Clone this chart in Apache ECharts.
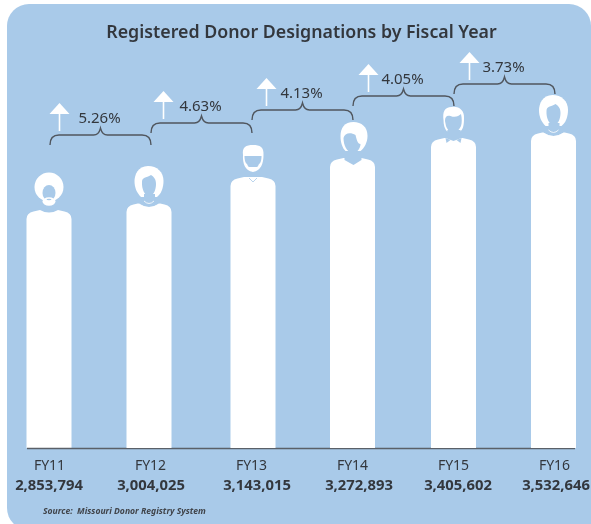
<!DOCTYPE html>
<html>
<head>
<meta charset="utf-8">
<style>html,body{margin:0;padding:0;background:#fff}#c{width:591px;height:524px}</style>
<script src="https://cdn.jsdelivr.net/npm/echarts@6/dist/echarts.min.js"></script>
</head>
<body>
<div id="c"></div>
<script>
// --- data ---
const fiscalYears = ['FY11', 'FY12', 'FY13', 'FY14', 'FY15', 'FY16'];
const designations = [2853794, 3004025, 3143015, 3272893, 3405602, 3532646];
// silhouette shoulder heights as drawn in the infographic (not strictly proportional)
const figureLevels = [2853794, 2915000, 3144000, 3312000, 3488000, 3541000];
const growthLabels = ['5.26%', '4.63%', '4.13%', '4.05%', '3.73%'];
const braceLevels = [3514000, 3620000, 3735000, 3858000, 3964000];
const figureKinds = ['afro', 'curly', 'beard', 'bob', 'suit', 'curly'];

// --- styling ---
const PANEL = '#a9cae9', INK = '#33373d', BRACE = '#50565e', WHITE = '#ffffff';
const FONT = '"Noto Sans", "Open Sans", sans-serif';
const figureShift = [-0.5, -1.5, 1.5, 0, 0, -1];
const valueShift = [-0.5, 0.5, 5.5, 6.5, 4.5, 1.5];
const arrowShift = [-41, -38, -36, -35, -35];
const BODY_W = 22.5;

function ell(cx, cy, rx, ry) {
  return `M${cx - rx} ${cy}A${rx} ${ry} 0 1 1 ${cx + rx} ${cy}A${rx} ${ry} 0 1 1 ${cx - rx} ${cy}Z`;
}
function fill(d, color) { return { type: 'path', shape: { pathData: d }, style: { fill: color } }; }
function stroke(d, color, w) { return { type: 'path', shape: { pathData: d }, style: { fill: 'none', stroke: color, lineWidth: w } }; }

const heads = {
  afro: () => [
    fill(ell(0, -23, 14.5, 14.5), WHITE),
    fill(ell(0, -17, 6.5, 8), PANEL),
    fill(ell(0, -8.5, 6.5, 4.2), WHITE),
    fill(ell(0, -10.5, 2.5, 0.8), PANEL),
    fill('M-8 -4Q0 3 8 -4L9 0Q0 5 -9 0Z', PANEL)
  ],
  curly: () => [
    fill('M-1 -37C-11 -37 -14.5 -28 -14.5 -22C-14.5 -15 -12 -10 -8 -6L8 -6L10 -8C13 -11 14.5 -17 14.5 -22C14.5 -31 8 -37 -1 -37Z', WHITE),
    fill('M2 -28C-3 -25 -7 -26 -7 -21C-7.5 -14 -4 -7 0 -7C5 -7 7 -14 7 -19C7 -24 5 -26 2 -28Z', PANEL),
    fill('M-5 -9L6 -9L6 -5L11 0Q0 8 -11 0L-5 -5Z', PANEL),
    stroke('M-10 1Q0 8 10 1', WHITE, 0.8),
    stroke('M-5 -2Q0 3 5 -2', WHITE, 0.8)
  ],
  beard: () => [
    fill('M-10 -22C-11 -30 -7 -32 0 -32C7 -32 11 -30 10.5 -22C10.5 -14 8 -6 0 -5C-8 -6 -10.5 -14 -10 -22Z', WHITE),
    fill('M-8.5 -21L8.5 -21C8.5 -18 8 -14 6 -13L-6 -13C-8 -14 -8.5 -18 -8.5 -21Z', PANEL),
    fill('M-4 -13C-2 -14.5 2 -14.5 4 -13L6 -13C5 -11 5 -10 3.5 -10L-3.5 -10C-5 -10 -5 -11 -6 -13Z', PANEL),
    fill('M-9 -9L-3 -5L-3 0L-8 0Z', PANEL),
    fill('M9 -9L3 -5L3 0L8 0Z', PANEL),
    stroke('M-4 1L0 5L4 1', PANEL, 0.8)
  ],
  bob: () => [
    fill('M1 -36C-8 -36 -12 -30 -12 -22C-12 -15 -10 -10 -7 -7L8 -7C12 -10 15 -16 15 -22C15 -31 9 -36 1 -36Z', WHITE),
    fill('M-9 -20C-9 -13 -6 -6 0 -5C5 -5 8 -10 8 -14C5 -14 4 -19 3 -23C-2 -26 -8 -25 -9 -20Z', PANEL),
    fill('M-8 -6L9 -6L9 2L1 7L-8 2Z', PANEL)
  ],
  suit: () => [
    fill('M-10 -18C-11 -26 -9 -31 -2 -31C6 -32 11 -27 10.5 -20C10.5 -14 10 -8 6 -6L-6 -6C-9 -9 -10 -13 -10 -18Z', WHITE),
    fill('M-8.5 -17C-8.5 -21 -7 -23 -3 -22C2 -20 5 -22 7.5 -24C8.5 -20 8.5 -15 7.5 -12C5 -7 2 -5 0 -5C-3 -5 -6 -8 -7.5 -12Z', PANEL),
    fill('M-6 -8L7 -8L8 0L0 3L-8 0Z', PANEL),
    fill('M-8 0L-3 2L-7 5Z', PANEL),
    fill('M8 0L3 2L7 5Z', PANEL),
    fill('M-2.5 3L2.5 3L1.5 9L-1.5 9Z', WHITE)
  ]
};

function renderFigure(params, api) {
  const i = api.value(0);
  const c = api.coord([i, api.value(1)]);
  const base = api.coord([i, 755000])[1];
  const cx = c[0] + figureShift[i], top = c[1], h = base - top, w = BODY_W;
  const body = `M${-w} ${h}L${-w} 9Q${-w} 3 ${-w + 7} 1.5L-9 0L9 0L${w - 7} 1.5Q${w} 3 ${w} 9L${w} ${h}Z`;
  const children = [fill(body, WHITE)].concat(heads[figureKinds[i]]());
  const items = [{ type: 'group', x: cx, y: top, children }];
  items.push({
    type: 'text',
    x: c[0] + valueShift[i], y: base + 37.5,
    style: {
      text: designations[i].toLocaleString('en-US'),
      fill: INK, align: 'center', verticalAlign: 'middle',
      font: 'bold 14.8px ' + FONT
    }
  });
  if (i === 0) {
    items.push({
      type: 'line',
      shape: { x1: c[0] - 22.5, y1: base + 0.5, x2: api.coord([fiscalYears.length - 1, 0])[0] + 20.5, y2: base + 0.5 },
      style: { stroke: '#5a6068', lineWidth: 1.5 }
    });
  }
  return { type: 'group', children: items };
}

function renderBrace(params, api) {
  const i = api.value(0);
  const a = api.coord([i, api.value(1)]);
  const b = api.coord([i + 1, api.value(1)]);
  const x0 = a[0] + 0.5, x1 = b[0] + 0.5, y = a[1], xm = (x0 + x1) / 2;
  const d = `M${x0} ${y + 10}C${x0} ${y + 3} ${x0 + 3} ${y} ${x0 + 9} ${y}L${xm - 7} ${y}C${xm - 3} ${y} ${xm - 1} ${y - 3} ${xm} ${y - 7}C${xm + 1} ${y - 3} ${xm + 3} ${y} ${xm + 7} ${y}L${x1 - 9} ${y}C${x1 - 3} ${y} ${x1} ${y + 3} ${x1} ${y + 10}`;
  const ax = xm + arrowShift[i], ay = y;
  return {
    type: 'group',
    children: [
      stroke(d, BRACE, 1.4),
      fill(`M${ax - 10} ${ay - 21}L${ax} ${ay - 32}L${ax + 10} ${ay - 21}Z`, WHITE),
      { type: 'rect', shape: { x: ax - 0.8, y: ay - 22, width: 1.6, height: 18 }, style: { fill: WHITE } },
      {
        type: 'text', x: xm - 1, y: y - 16.5,
        style: {
          text: growthLabels[i], fill: INK, align: 'center', verticalAlign: 'middle',
          font: '15px ' + FONT
        }
      }
    ]
  };
}

const chart = echarts.init(document.getElementById('c'), null, { renderer: 'canvas' });
chart.setOption({
  animation: false,
  backgroundColor: '#ffffff',
  title: {
    text: 'Registered Donor Designations by Fiscal Year',
    left: 296.5, top: 19, textAlign: 'center',
    textStyle: { fontFamily: FONT, fontSize: 17.8, fontWeight: 600, color: INK }
  },
  graphic: [
    { type: 'rect', z: -1, shape: { x: 7, y: 4, width: 584, height: 526, r: [22, 22, 0, 22] }, style: { fill: PANEL } },
    {
      type: 'text', z: 5, left: 43, top: 507,
      style: {
        text: 'Source:  Missouri Donor Registry System',
        fill: '#40444a', font: 'italic bold 8.6px ' + FONT
      }
    }
  ],
  grid: { left: -1, right: -14, top: 0, bottom: 76, outerBoundsMode: 'none' },
  xAxis: {
    type: 'category',
    data: fiscalYears,
    axisLine: { show: false },
    axisTick: { show: false },
    axisLabel: { margin: 11, fontFamily: FONT, fontSize: 14, color: INK, interval: 0, verticalAlign: 'top' }
  },
  yAxis: { type: 'value', min: 755000, max: 4704568, show: false, splitLine: { show: false } },
  series: [
    {
      type: 'custom', name: 'Registered donor designations', renderItem: renderFigure, z: 2,
      encode: { x: 0, y: 1 },
      data: fiscalYears.map((_, i) => [i, figureLevels[i]]), clip: false
    },
    {
      type: 'custom', name: 'Year-over-year growth', renderItem: renderBrace, z: 3,
      encode: { x: 0, y: 1 },
      data: growthLabels.map((_, i) => [i, braceLevels[i]]), clip: false
    }
  ]
});
</script>
</body>
</html>
